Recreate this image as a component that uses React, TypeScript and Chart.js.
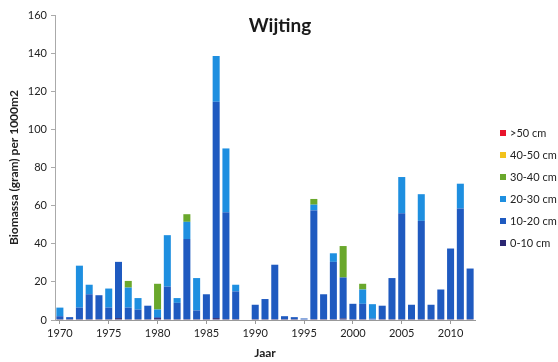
import React, { useEffect, useRef } from "react";
import { Chart, registerables } from "chart.js";

Chart.register(...registerables);

const years = [
  "1970", "1971", "1972", "1973", "1974", "1975", "1976", "1977", "1978", "1979",
  "1980", "1981", "1982", "1983", "1984", "1985", "1986", "1987", "1988", "1989",
  "1990", "1991", "1992", "1993", "1994", "1995", "1996", "1997", "1998", "1999",
  "2000", "2001", "2002", "2003", "2004", "2005", "2006", "2007", "2008", "2009",
  "2010", "2011", "2012",
];

const size0to10 = [
  0.5, 0.5, 0.5, 0.5, 0.5, 0.5, 1, 0.5, 0.5, 0.5,
  1, 0.5, 0.5, 0.5, 0.5, 0.5, 1, 0.5, 0.5, 0,
  0.5, 0.5, 0.5, 0.5, 0.5, 0.3, 0.5, 0.5, 0.5, 0.8,
  0.5, 0.5, 0.3, 0.5, 0.5, 0.5, 0.5, 0.5, 0.5, 0.5,
  0.5, 0.5, 0.5,
];

const size10to20 = [
  1.5, 1, 6, 13, 12.5, 6, 29.5, 6, 5, 7,
  0.5, 17, 8.5, 42, 4.5, 13, 113.5, 56, 14.5, 0,
  7.5, 10.5, 28.5, 1.5, 1, 0.5, 57, 13, 30, 21.5,
  8, 8, 0.5, 7, 21.5, 55.5, 7.5, 51.5, 7.5, 15.5,
  37, 58, 26.5,
];

const size20to30 = [
  4.5, 0, 22, 5, 0, 10, 0, 10.5, 6, 0,
  4, 27, 2.5, 9, 17, 0, 24, 33.5, 3.5, 0,
  0, 0, 0, 0, 0, 0, 3, 0, 4.5, 0,
  0, 7.5, 7.5, 0, 0, 19, 0, 14, 0, 0,
  0, 13, 0,
];

const size30to40 = [
  0, 0, 0, 0, 0, 0, 0, 3.5, 0, 0,
  13.5, 0, 0, 4, 0, 0, 0, 0, 0, 0,
  0, 0, 0, 0, 0, 0, 3, 0, 0, 16.5,
  0, 3, 0, 0, 0, 0, 0, 0, 0, 0,
  0, 0, 0,
];

const size40to50 = [
  0, 0, 0, 0, 0, 0, 0, 0, 0, 0,
  0, 0, 0, 0, 0, 0, 0, 0, 0, 0,
  0, 0, 0, 0, 0, 0, 0, 0, 0, 0,
  0, 0, 0, 0, 0, 0, 0, 0, 0, 0,
  0, 0, 0,
];

const sizeOver50 = [
  0, 0, 0, 0, 0, 0, 0, 0, 0, 0,
  0, 0, 0, 0, 0, 0, 0, 0, 0, 0,
  0, 0, 0, 0, 0, 0, 0, 0, 0, 0,
  0, 0, 0, 0, 0, 0, 0, 0, 0, 0,
  0, 0, 0,
];

const seriesLabels = ["0-10 cm", "10-20 cm", "20-30 cm", "30-40 cm", "40-50 cm", ">50 cm"];
const seriesColors = ["#2a2672", "#1f5ac0", "#1e8fe0", "#6aa82c", "#f2c21c", "#e8142c"];
const yTicks = [0, 20, 40, 60, 80, 100, 120, 140, 160];

const FONT = "Lato, 'Open Sans', sans-serif";

const titlePlugin = {
  id: "wijtingTitle",
  afterDraw(chart: any) {
    const ctx = chart.ctx;
    ctx.save();
    ctx.font = `bold 19px ${FONT}`;
    ctx.fillStyle = "#1a1a1a";
    ctx.textAlign = "center";
    ctx.textBaseline = "middle";
    ctx.fillText("Wijting", 280, 26);
    ctx.restore();
  },
};

const legendPlugin = {
  id: "sideLegend",
  afterDraw(chart: any) {
    const ctx = chart.ctx;
    const ds = chart.data.datasets;
    ctx.save();
    ctx.font = `11px ${FONT}`;
    ctx.textBaseline = "middle";
    ctx.textAlign = "left";
    const n = ds.length;
    for (let i = 0; i < n; i++) {
      const d = ds[n - 1 - i];
      const y = 133 + i * 22;
      ctx.fillStyle = d.backgroundColor;
      ctx.fillRect(500, y - 3, 6, 6);
      ctx.fillStyle = "#222";
      ctx.fillText(d.label, 510, y);
    }
    ctx.restore();
  },
};

export default function App() {
  const canvasRef = useRef<HTMLCanvasElement | null>(null);

  useEffect(() => {
    if (!canvasRef.current) return;
    const values = [size0to10, size10to20, size20to30, size30to40, size40to50, sizeOver50];
    const chart = new Chart(canvasRef.current, {
      type: "bar",
      data: {
        labels: years,
        datasets: values.map((v, i) => ({
          label: seriesLabels[i],
          data: v,
          backgroundColor: seriesColors[i],
          borderWidth: 0,
          barPercentage: 0.72,
          categoryPercentage: 1,
        })),
      },
      options: {
        responsive: false,
        animation: false,
        devicePixelRatio: 1,
        layout: { padding: { left: 0, right: 83, top: 15, bottom: 0 } },
        plugins: {
          legend: { display: false },
          tooltip: { enabled: false },
          title: { display: false },
        },
        scales: {
          x: {
            stacked: true,
            afterFit: (s: any) => {
              s.height = 42;
            },
            grid: {
              display: true,
              drawOnChartArea: false,
              offset: false,
              tickLength: 4,
              tickColor: (c: any) =>
                c.tick && Number(years[c.index]) % 5 === 0 ? "#999" : "rgba(0,0,0,0)",
            },
            border: { display: true, color: "#999", width: 1 },
            ticks: {
              autoSkip: false,
              maxRotation: 0,
              minRotation: 0,
              padding: 3,
              color: "#222",
              font: { family: FONT, size: 11 },
              callback: (_v: any, i: number) => (Number(years[i]) % 5 === 0 ? years[i] : ""),
            },
            title: {
              display: true,
              text: "Jaar",
              color: "#222",
              font: { family: FONT, size: 12, weight: "bold" },
              padding: { top: 0, bottom: 2 },
            },
          },
          y: {
            stacked: true,
            min: 0,
            max: 160,
            afterFit: (s: any) => {
              s.width = 55;
            },
            afterBuildTicks: (s: any) => {
              s.ticks = yTicks.map((v) => ({ value: v }));
            },
            grid: {
              display: true,
              drawOnChartArea: false,
              tickLength: 4,
              tickColor: "#aaa",
            },
            border: { display: true, color: "#aaa", width: 1 },
            ticks: {
              padding: 4,
              color: "#222",
              font: { family: FONT, size: 11 },
            },
            title: {
              display: true,
              text: "Biomassa (gram) per 1000m2",
              color: "#222",
              font: { family: FONT, size: 12, weight: "bold" },
              padding: { top: 7, bottom: 0 },
            },
          },
        },
      },
      plugins: [titlePlugin, legendPlugin],
    });
    return () => chart.destroy();
  }, []);

  return (
    <div style={{ position: "absolute", left: 0, top: 0, width: 558, height: 362, background: "#fff" }}>
      <canvas ref={canvasRef} width={558} height={362} />
    </div>
  );
}
